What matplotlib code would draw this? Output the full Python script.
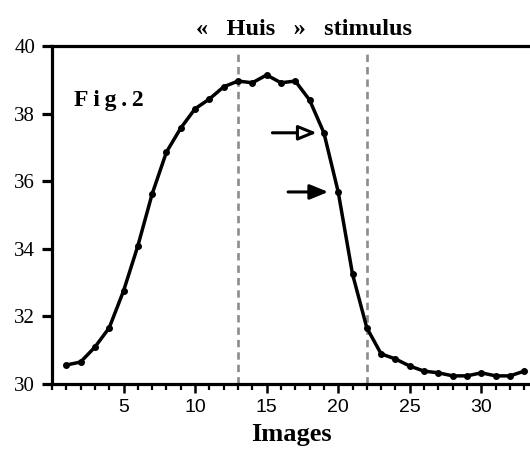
import numpy as np
import matplotlib.pyplot as plt
from matplotlib.ticker import MultipleLocator

images = list(range(1, 34))
values = [30.56, 30.65, 31.09, 31.66, 32.75, 34.08, 35.62, 36.86, 37.57, 38.14,
          38.43, 38.79, 38.96, 38.91, 39.14, 38.91, 38.96, 38.40, 37.43, 35.68,
          33.25, 31.66, 30.89, 30.74, 30.53, 30.38, 30.33, 30.24, 30.24, 30.33,
          30.24, 30.24, 30.38]
stim_on, stim_off = 13, 22
xticks = [5, 10, 15, 20, 25, 30]
yticks = [30, 32, 34, 36, 38, 40]

serif = 'Liberation Serif'
sans = 'Liberation Sans'

fig = plt.figure(figsize=(5.30, 4.51), dpi=100)
ax = fig.add_axes([0.098, 0.1486, 0.902, 0.7496])

ax.plot(images, values, '-', color='black', lw=2.5, marker='o', ms=4,
        solid_joinstyle='round', clip_on=False, zorder=3)
for xv in (stim_on, stim_off):
    ax.axvline(xv, color='#8c8c8c', lw=1.9, linestyle=(0, (2.8, 1.9)),
               ymin=0.0, ymax=0.98, zorder=1)

# arrows pointing at the falling part of the curve
ax.annotate('', xy=(18.5, values[18]), xytext=(15.4, values[18]),
            arrowprops=dict(arrowstyle='-|>,head_length=1.1,head_width=0.45',
                            color='black', fc='white', lw=2.2,
                            shrinkA=0, shrinkB=0))
ax.annotate('', xy=(19.3, values[19]), xytext=(16.5, values[19]),
            arrowprops=dict(arrowstyle='-|>,head_length=1.1,head_width=0.45',
                            color='black', fc='black', lw=2.2,
                            shrinkA=0, shrinkB=0))

ax.set_xlim(0, 33.4)
ax.set_ylim(30, 40)
ax.set_xticks(xticks)
ax.xaxis.set_minor_locator(MultipleLocator(1))
ax.set_yticks(yticks)

for side in ('left', 'bottom', 'top'):
    ax.spines[side].set_linewidth(2.3)
ax.spines['right'].set_visible(False)

ax.tick_params(axis='x', which='major', direction='out', length=6.5, width=1.8,
               pad=4, labelsize=14)
ax.tick_params(axis='x', which='minor', direction='out', length=4.5, width=1.6)
ax.tick_params(axis='y', direction='out', length=7, width=2.3, pad=5,
               labelsize=15)
for lab in ax.get_xticklabels():
    lab.set_fontfamily(sans)
for lab in ax.get_yticklabels():
    lab.set_fontfamily(serif)

ax.set_xlabel('Images', family=serif, fontsize=19, fontweight='bold',
              labelpad=5)
fig.text(0.574, 0.935, '\u00ab   Huis   \u00bb   stimulus', family=serif,
         fontsize=17.5, fontweight='bold', ha='center', va='center')
ax.text(0.046, 0.84, 'F\u2009i\u2009g\u2009.\u20092', transform=ax.transAxes,
        family=[serif, 'DejaVu Serif'], fontsize=17, fontweight='bold',
        ha='left', va='center')

fig.savefig('out.png', dpi=100)
